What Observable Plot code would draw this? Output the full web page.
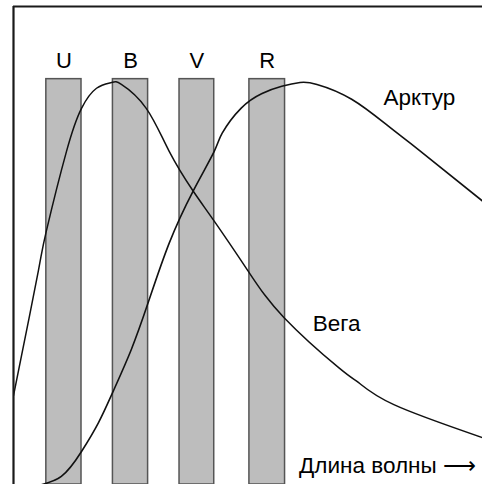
<!DOCTYPE html>
<html>
<head>
<meta charset="utf-8">
<script src="https://cdn.jsdelivr.net/npm/d3@7"></script>
<script src="https://cdn.jsdelivr.net/npm/@observablehq/plot@0.6"></script>
<style>
  html, body { margin: 0; padding: 0; background: #fff; }
  svg { display: block; }
</style>
</head>
<body>
<div id="chart"></div>
<script>
// Filter passbands (relative wavelength units 0–100)
const bandNames = ["U", "B", "V", "R"];
const bandStart = [7.0, 21.2, 35.4, 50.3];
const bandEnd   = [14.5, 28.7, 42.8, 57.9];
const bandTop   = 84.8;

// Vega spectrum (relative wavelength, relative flux)
const vegaX = [0, 1.7, 5.3, 7.0, 11.3, 14.5, 17.7, 20.9, 23.0, 28.3, 33.2, 38.3, 42.8, 50.0, 57.7, 69.4, 73.6, 81.1, 100];
const vegaY = [18.6, 26.9, 44.7, 53.0, 69.7, 78.7, 82.9, 84.1, 83.7, 78.7, 69.7, 61.4, 55.1, 44.7, 34.9, 24.4, 21.3, 16.7, 9.8];

// Arcturus spectrum
const arctX = [4.5, 10.2, 14.5, 18.1, 21.3, 25.1, 28.7, 33.2, 38.3, 42.8, 44.5, 48.5, 53.0, 57.2, 61.1, 64.7, 72.1, 80.0, 86.8, 100];
const arctY = [-0.4, 1.7, 6.9, 12.9, 19.6, 28.2, 38.0, 50.5, 61.4, 69.7, 73.5, 78.7, 81.8, 83.3, 84.1, 83.7, 80.6, 74.9, 69.7, 59.3];

// Text labels
const labelText = ["Арктур", "Вега", "Длина волны ⟶"];
const labelX = [78.9, 63.8, 60.9];
const labelY = [80.8, 33.6, 3.9];

const bands = bandNames.map((n, i) => ({name: n, x1: bandStart[i], x2: bandEnd[i], top: bandTop}));
const vega = vegaX.map((x, i) => ({x, y: vegaY[i]}));
const arct = arctX.map((x, i) => ({x, y: arctY[i]}));
const labels = labelText.map((t, i) => ({t, x: labelX[i], y: labelY[i]}));

const chart = Plot.plot({
  width: 482,
  height: 484,
  marginLeft: 13,
  marginRight: 0,
  marginTop: 6,
  marginBottom: 0,
  x: {domain: [0, 100], axis: null},
  y: {domain: [0, 100], axis: null},
  style: {fontFamily: "'Liberation Sans', Arial, sans-serif", background: "#fff"},
  marks: [
    Plot.rectY(bands, {x1: "x1", x2: "x2", y1: 0, y2: "top", fill: "#bdbdbd", stroke: "#555", strokeWidth: 1.5}),
    Plot.text(bands, {x: d => (d.x1 + d.x2) / 2, y: 88.6, text: "name", fontSize: 22, fill: "#000"}),
    Plot.line(vega, {x: "x", y: "y", curve: "natural", stroke: "#111", strokeWidth: 1.5, clip: true}),
    Plot.line(arct, {x: "x", y: "y", curve: "natural", stroke: "#111", strokeWidth: 1.6, clip: true}),
    Plot.text(labels, {x: "x", y: "y", text: "t", textAnchor: "start", fontSize: 22.5, fill: "#000"}),
    Plot.ruleX([0], {stroke: "#1a1a1a", strokeWidth: 2.2}),
    Plot.ruleY([100], {stroke: "#1a1a1a", strokeWidth: 2.2})
  ]
});
document.getElementById("chart").appendChild(chart);
</script>
</body>
</html>
